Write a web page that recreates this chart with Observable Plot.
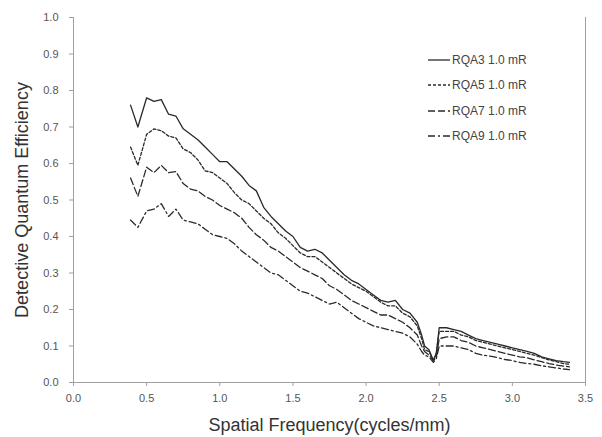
<!DOCTYPE html>
<html><head><meta charset="utf-8">
<script src="https://cdn.jsdelivr.net/npm/d3@7"></script>
<script src="https://cdn.jsdelivr.net/npm/@observablehq/plot@0.6"></script>
<style>
body{margin:0;background:#fff;}
#wrap{position:relative;width:602px;height:437px;}
#legend{position:absolute;left:428px;top:47px;font:12px "Liberation Sans",Arial,sans-serif;color:#444;}
#legend .row{display:flex;align-items:center;height:25.5px;}
#legend svg{margin-right:2px;}
</style></head><body>
<div id="wrap"><div id="legend"></div></div>
<script>
const freq = [0.39,0.44,0.5,0.55,0.6,0.65,0.7,0.75,0.8,0.85,0.9,0.95,1.0,1.05,1.1,1.15,1.2,1.25,1.3,1.35,1.4,1.45,1.5,1.55,1.6,1.65,1.7,1.75,1.8,1.85,1.9,1.95,2.0,2.05,2.1,2.15,2.2,2.25,2.3,2.35,2.38,2.4,2.43,2.46,2.48,2.5,2.55,2.6,2.65,2.7,2.75,2.8,2.85,2.9,2.95,3.0,3.05,3.1,3.15,3.2,3.25,3.3,3.35,3.39];
const rqa3 = [0.76,0.70,0.78,0.77,0.775,0.735,0.73,0.695,0.68,0.665,0.645,0.625,0.605,0.605,0.585,0.565,0.54,0.525,0.48,0.455,0.435,0.415,0.40,0.37,0.36,0.365,0.355,0.335,0.315,0.295,0.28,0.27,0.255,0.24,0.225,0.22,0.225,0.20,0.19,0.165,0.13,0.10,0.09,0.06,0.08,0.15,0.15,0.145,0.14,0.13,0.12,0.115,0.11,0.105,0.10,0.095,0.09,0.085,0.08,0.07,0.065,0.06,0.057,0.055];
const rqa5 = [0.645,0.595,0.68,0.695,0.69,0.675,0.67,0.64,0.63,0.61,0.58,0.575,0.56,0.545,0.52,0.50,0.49,0.47,0.45,0.435,0.41,0.395,0.375,0.355,0.345,0.345,0.33,0.315,0.30,0.285,0.27,0.26,0.25,0.235,0.22,0.21,0.21,0.19,0.18,0.155,0.12,0.09,0.085,0.06,0.08,0.14,0.14,0.14,0.13,0.125,0.115,0.11,0.105,0.10,0.095,0.09,0.085,0.08,0.075,0.068,0.062,0.057,0.052,0.05];
const rqa7 = [0.56,0.51,0.59,0.575,0.595,0.575,0.578,0.545,0.53,0.525,0.51,0.50,0.485,0.475,0.465,0.45,0.425,0.405,0.39,0.37,0.36,0.345,0.33,0.315,0.305,0.295,0.285,0.265,0.255,0.24,0.225,0.215,0.205,0.195,0.185,0.185,0.175,0.165,0.15,0.13,0.10,0.085,0.075,0.06,0.07,0.12,0.125,0.125,0.115,0.11,0.10,0.095,0.09,0.085,0.08,0.075,0.07,0.068,0.062,0.057,0.052,0.048,0.045,0.043];
const rqa9 = [0.445,0.425,0.47,0.475,0.49,0.455,0.475,0.445,0.44,0.435,0.42,0.405,0.40,0.395,0.38,0.36,0.345,0.33,0.315,0.30,0.295,0.28,0.265,0.25,0.245,0.235,0.225,0.215,0.22,0.205,0.19,0.175,0.165,0.155,0.15,0.145,0.14,0.135,0.125,0.105,0.085,0.075,0.07,0.055,0.065,0.10,0.10,0.10,0.095,0.09,0.08,0.075,0.072,0.068,0.063,0.06,0.055,0.052,0.05,0.046,0.043,0.04,0.037,0.035];
const seriesNames = ["RQA3 1.0 mR","RQA5 1.0 mR","RQA7 1.0 mR","RQA9 1.0 mR"];
const seriesValues = [rqa3, rqa5, rqa7, rqa9];
const dashes = [null, "3,2", "7,3", "7,3,2,3"];
const xTicks = [0,0.5,1,1.5,2,2.5,3,3.5];
const yTicks = [0,0.1,0.2,0.3,0.4,0.5,0.6,0.7,0.8,0.9,1.0];

const lineColor = "#2a2a2a";
const marks = [
  Plot.ruleY([0], {stroke: "#a0a0a0"}),
  Plot.ruleX([0], {stroke: "#a0a0a0"}),
  Plot.ruleX([3.5], {stroke: "#a0a0a0"}),
];
seriesValues.forEach((vals, i) => {
  const data = freq.map((f, j) => ({f, v: vals[j]}));
  marks.push(Plot.line(data, {x: "f", y: "v", stroke: lineColor, strokeWidth: 1.3, strokeDasharray: dashes[i]}));
});

const chart = Plot.plot({
  width: 602, height: 437,
  marginLeft: 73, marginRight: 17, marginTop: 17, marginBottom: 55,
  style: {fontFamily: '"Liberation Sans", Arial, sans-serif', fontSize: "11px", color: "#555", background: "#fff"},
  x: {domain: [0, 3.5], ticks: xTicks, tickFormat: d3.format(".1f"), tickSize: 4, tickPadding: 8,
      label: "Spatial Frequency(cycles/mm)", labelAnchor: "center", labelArrow: "none", labelOffset: 48},
  y: {domain: [0, 1], ticks: yTicks, tickFormat: d3.format(".1f"), tickSize: 4, tickPadding: 11,
      label: "Detective Quantum Efficiency", labelAnchor: "center", labelArrow: "none", labelOffset: 58},
  marks
});
chart.querySelectorAll('g[aria-label="x-axis label"] text, g[aria-label="y-axis label"] text').forEach(t => {
  t.setAttribute("font-size", "18px"); t.setAttribute("fill", "#333");
});
chart.querySelectorAll('g[aria-label="x-axis tick"], g[aria-label="y-axis tick"]').forEach(g => g.setAttribute("stroke", "#a0a0a0"));
document.getElementById("wrap").prepend(chart);

const leg = document.getElementById("legend");
seriesNames.forEach((name, i) => {
  const row = document.createElement("div"); row.className = "row";
  row.innerHTML = `<svg width="22" height="10"><line x1="0" y1="5" x2="22" y2="5" stroke="${lineColor}" stroke-width="1.3" ${dashes[i] ? `stroke-dasharray="${dashes[i]}"` : ""}/></svg><span>${name}</span>`;
  leg.appendChild(row);
});
</script>
</body></html>
